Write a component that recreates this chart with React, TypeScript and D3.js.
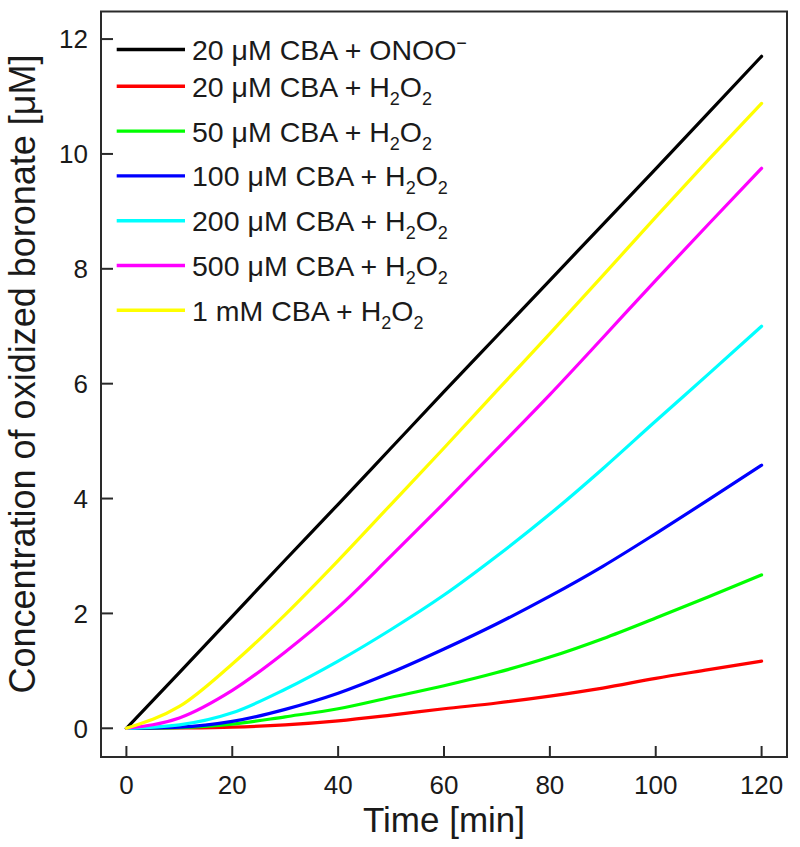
import React from "react";
import * as d3 from "d3";

const times = [0, 10, 20, 30, 40, 50, 60, 70, 80, 90, 100, 110, 120];
const onoo20 = [0, 0.97, 1.95, 2.93, 3.9, 4.88, 5.86, 6.83, 7.8, 8.77, 9.74, 10.72, 11.7];
const h2o2_20 = [0, 0.005, 0.02, 0.06, 0.13, 0.23, 0.34, 0.44, 0.56, 0.7, 0.87, 1.02, 1.17];
const h2o2_50 = [0, 0.01, 0.07, 0.2, 0.34, 0.54, 0.74, 0.97, 1.24, 1.56, 1.92, 2.29, 2.67];
const h2o2_100 = [0, 0.02, 0.12, 0.33, 0.61, 0.97, 1.38, 1.82, 2.3, 2.82, 3.39, 3.98, 4.58];
const h2o2_200 = [0, 0.06, 0.27, 0.68, 1.17, 1.72, 2.32, 3.0, 3.73, 4.52, 5.35, 6.17, 7.0];
const h2o2_500 = [0, 0.18, 0.66, 1.33, 2.1, 3.0, 3.92, 4.86, 5.81, 6.8, 7.8, 8.78, 9.75];
const h2o2_1000 = [0, 0.38, 1.12, 1.98, 2.92, 3.9, 4.88, 5.88, 6.87, 7.88, 8.9, 9.9, 10.88];

const seriesLabels = ["20 μM CBA + ", "20 μM CBA + ", "50 μM CBA + ", "100 μM CBA + ", "200 μM CBA + ", "500 μM CBA + ", "1 mM CBA + "];
const seriesOxidant = ["ONOO", "H2O2", "H2O2", "H2O2", "H2O2", "H2O2", "H2O2"];
const seriesColors = ["#000000", "#ff0000", "#00ff00", "#0000ff", "#00ffff", "#ff00ff", "#ffff00"];
const seriesValues = [onoo20, h2o2_20, h2o2_50, h2o2_100, h2o2_200, h2o2_500, h2o2_1000];

const xTicks = [0, 20, 40, 60, 80, 100, 120];
const yTicks = [0, 2, 4, 6, 8, 10, 12];

const W = 800;
const H = 847;
const left = 101;
const right = 787;
const top = 11.5;
const bottom = 757;

export default function App() {
  const x = d3.scaleLinear().domain([-4.8, 124.8]).range([left, right]);
  const y = d3.scaleLinear().domain([-0.5, 12.48]).range([bottom, top]);
  const line = d3
    .line<[number, number]>()
    .x((d) => x(d[0]))
    .y((d) => y(d[1]))
    .curve(d3.curveMonotoneX);

  const font = "'Liberation Sans', Arial, sans-serif";
  const text = "#1a1a1a";

  const legendYs: number[] = [];
  let ly = 49.5;
  for (let i = 0; i < seriesLabels.length; i++) {
    legendYs.push(ly);
    ly += i === 0 ? 36.8 : 44.8;
  }

  const renderOx = (ox: string) => {
    if (ox === "ONOO") {
      return [
        <tspan key="a">ONOO</tspan>,
        <tspan key="b" fontSize={18} dy={-11}>−</tspan>,
      ];
    }
    return [
      <tspan key="a">H</tspan>,
      <tspan key="b" fontSize={18} dy={8}>2</tspan>,
      <tspan key="c" dy={-8}>O</tspan>,
      <tspan key="d" fontSize={18} dy={8}>2</tspan>,
    ];
  };

  return (
    <svg
      width={W}
      height={H}
      style={{ position: "absolute", left: 0, top: 0, background: "#fff" }}
      fontFamily={font}
    >
      <rect x={0} y={0} width={W} height={H} fill="#fff" />
      {seriesValues.map((vals, i) => (
        <path
          key={i}
          d={line(times.map((t, j) => [t, vals[j]]) as [number, number][]) || ""}
          fill="none"
          stroke={seriesColors[i]}
          strokeWidth={3.2}
          strokeLinejoin="round"
          strokeLinecap="round"
        />
      ))}
      <rect
        x={left}
        y={top}
        width={right - left}
        height={bottom - top}
        fill="none"
        stroke="#2a2a2a"
        strokeWidth={2}
      />
      {xTicks.map((t) => (
        <g key={"x" + t}>
          <line x1={x(t)} x2={x(t)} y1={bottom} y2={bottom - 11} stroke="#2a2a2a" strokeWidth={2} />
          <text x={x(t)} y={794} textAnchor="middle" fontSize={26} fill={text}>
            {t}
          </text>
        </g>
      ))}
      {yTicks.map((v) => (
        <g key={"y" + v}>
          <line x1={left} x2={left + 12} y1={y(v)} y2={y(v)} stroke="#2a2a2a" strokeWidth={2} />
          <text x={88} y={y(v) + 9.3} textAnchor="end" fontSize={26} fill={text}>
            {v}
          </text>
        </g>
      ))}
      <text x={(left + right) / 2} y={832} textAnchor="middle" fontSize={35} fill={text}>
        Time [min]
      </text>
      <text
        transform={`translate(35,374) rotate(-90)`}
        textAnchor="middle"
        fontSize={36}
        fill={text}
      >
        Concentration of oxidized boronate [μM]
      </text>
      {seriesLabels.map((lab, i) => (
        <g key={"l" + i}>
          <line
            x1={116.7}
            x2={185}
            y1={legendYs[i]}
            y2={legendYs[i]}
            stroke={seriesColors[i]}
            strokeWidth={3.4}
          />
          <text x={192} y={legendYs[i] + 10.5} fontSize={28.5} fill={text}>
            <tspan>{lab}</tspan>
            {renderOx(seriesOxidant[i])}
          </text>
        </g>
      ))}
    </svg>
  );
}
